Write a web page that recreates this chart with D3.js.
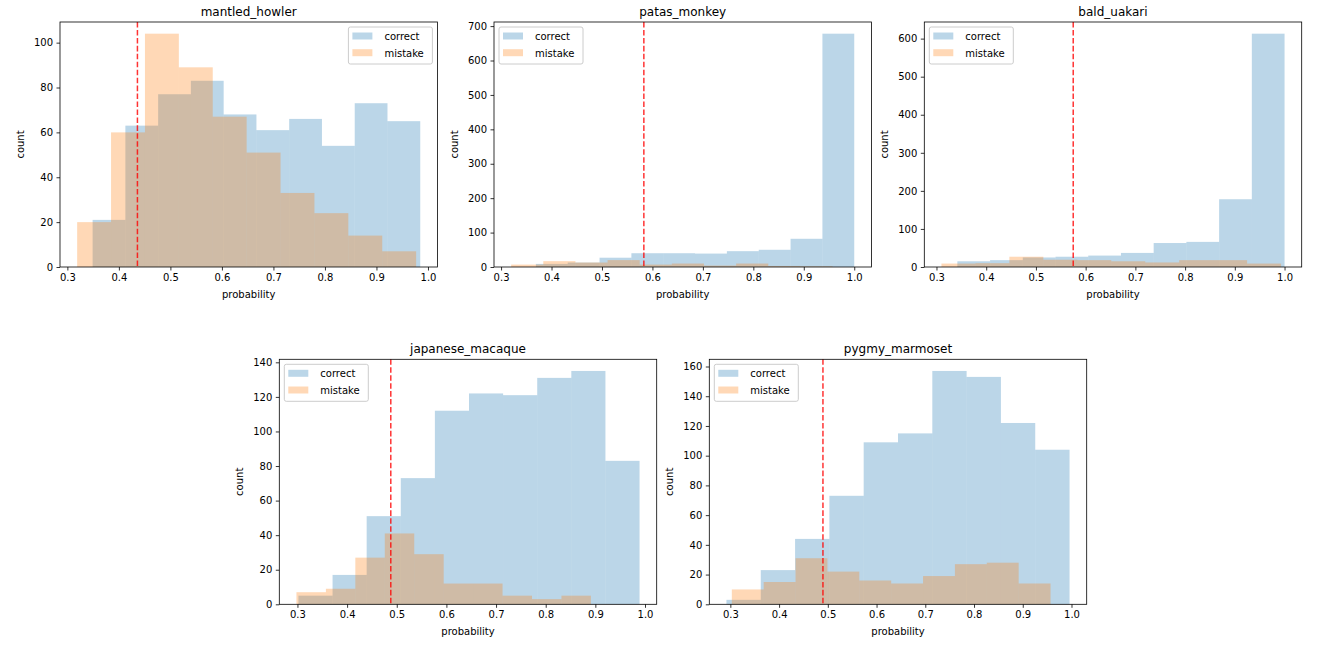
<!DOCTYPE html>
<html>
<head>
<meta charset="utf-8">
<script src="https://cdn.jsdelivr.net/npm/d3@7"></script>
<style>
  body { margin: 0; background: #fff; }
  text { font-family: "DejaVu Sans", sans-serif; }
</style>
</head>
<body>
<script>
// histogram data per class
var panels = ["mantled_howler", "patas_monkey", "bald_uakari", "japanese_macaque", "pygmy_marmoset"];

// [first bin edge, last bin edge], 10 equal bins each
var correctRange = [[0.349, 0.985], [0.369, 1.0], [0.342, 1.0], [0.302, 0.989], [0.292, 0.996]];
var mistakeRange = [[0.319, 0.977], [0.320, 0.957], [0.310, 0.993], [0.298, 0.891], [0.303, 0.957]];

var correctCounts = [
     [21, 63, 77, 83, 68, 61, 66, 54, 73, 65],
     [9, 13, 27, 40, 40, 39, 46, 50, 82, 678],
     [15, 18, 25, 27, 30, 37, 63, 66, 178, 613],
     [5, 17, 51, 73, 112, 122, 121, 131, 135, 83],
     [3, 23, 44, 73, 109, 115, 157, 153, 122, 104]
];
var mistakeCounts = [
     [20, 60, 104, 89, 67, 51, 33, 24, 14, 7],
     [7, 17, 13, 20, 7, 10, 4, 10, 3, 2],
     [9, 10, 27, 19, 18, 15, 12, 18, 18, 9],
     [7, 9, 27, 41, 29, 12, 12, 5, 3, 5],
     [10, 15, 31, 22, 16, 14, 19, 27, 28, 14]
];

var thresholds = [0.436, 0.583, 0.575, 0.488, 0.490];
var xTickValues = [0.3, 0.4, 0.5, 0.6, 0.7, 0.8, 0.9, 1.0];
var yTickStep = [20, 100, 100, 20, 20];
var seriesNames = ["correct", "mistake"];
var legendSide = ["right", "left", "left", "left", "left"];

var colors = ["#1f77b4", "#ff7f0e"];

var plotW = 377.4;
var plotH = 245;
var origins = [
     { left: 60, top: 22 },
     { left: 494, top: 22 },
     { left: 924.3, top: 22 },
     { left: 279.3, top: 359.3 },
     { left: 709.3, top: 359.3 }
];

var svg = d3.select("body").append("svg")
     .attr("width", 1333)
     .attr("height", 661);

svg.append("rect").attr("width", 1333).attr("height", 661).attr("fill", "#fff");

function toBins(range, counts) {
     var step = (range[1] - range[0]) / counts.length;
     return counts.map(function (c, i) {
          return { x0: range[0] + i * step, x1: range[0] + (i + 1) * step, count: c };
     });
}

panels.forEach(function (name, p) {
     var o = origins[p];
     var g = svg.append("g")
          .attr("transform", "translate(" + o.left + "," + o.top + ")");

     var lo = Math.min(correctRange[p][0], mistakeRange[p][0]);
     var hi = Math.max(correctRange[p][1], mistakeRange[p][1]);
     var pad = (hi - lo) * 0.05;
     var ymax = d3.max(correctCounts[p].concat(mistakeCounts[p])) * 1.05;

     var x = d3.scaleLinear().domain([lo - pad, hi + pad]).range([0, plotW]);
     var y = d3.scaleLinear().domain([0, ymax]).range([plotH, 0]);

     var series = [toBins(correctRange[p], correctCounts[p]), toBins(mistakeRange[p], mistakeCounts[p])];

     series.forEach(function (bins, s) {
          g.append("g").selectAll("rect")
               .data(bins)
               .enter()
               .append("rect")
               .attr("x", function (d) { return x(d.x0); })
               .attr("width", function (d) { return x(d.x1) - x(d.x0); })
               .attr("y", function (d) { return y(d.count); })
               .attr("height", function (d) { return y(0) - y(d.count); })
               .attr("fill", colors[s])
               .attr("fill-opacity", 0.3);
     });

     // threshold line
     g.append("line")
          .attr("x1", x(thresholds[p]))
          .attr("x2", x(thresholds[p]))
          .attr("y1", 0)
          .attr("y2", plotH)
          .attr("stroke", "red")
          .attr("stroke-opacity", 0.8)
          .attr("stroke-width", 1.5)
          .attr("stroke-dasharray", "5.55,2.4");

     var xAxis = g.append("g")
          .attr("transform", "translate(0," + plotH + ")")
          .call(d3.axisBottom(x).tickValues(xTickValues).tickFormat(d3.format(".1f"))
               .tickSize(3.5).tickPadding(3.5));
     var yAxis = g.append("g")
          .call(d3.axisLeft(y).tickValues(d3.range(0, ymax, yTickStep[p]))
               .tickSize(3.5).tickPadding(3.5));

     [xAxis, yAxis].forEach(function (a) {
          a.select(".domain").remove();
          a.selectAll("line").attr("stroke", "#000").attr("stroke-width", 0.8);
          a.selectAll("text")
               .attr("fill", "#000")
               .style("font-family", "'DejaVu Sans', sans-serif")
               .style("font-size", "10px");
     });

     g.append("rect")
          .attr("width", plotW)
          .attr("height", plotH)
          .attr("fill", "none")
          .attr("stroke", "#000")
          .attr("stroke-width", 0.8);

     g.append("text")
          .attr("x", plotW / 2)
          .attr("y", -6)
          .attr("text-anchor", "middle")
          .style("font-size", "12px")
          .attr("fill", "#000")
          .text(name);

     g.append("text")
          .attr("x", plotW / 2)
          .attr("y", plotH + 31)
          .attr("text-anchor", "middle")
          .style("font-size", "10px")
          .attr("fill", "#000")
          .text("probability");

     g.append("text")
          .attr("transform", "translate(-36.5," + plotH / 2 + ") rotate(-90)")
          .attr("text-anchor", "middle")
          .style("font-size", "10px")
          .attr("fill", "#000")
          .text("count");

     // legend
     var lw = 84, lh = 37;
     var lx = legendSide[p] == "right" ? plotW - 5 - lw : 5;
     var leg = g.append("g").attr("transform", "translate(" + lx + ",5)");
     leg.append("rect")
          .attr("width", lw)
          .attr("height", lh)
          .attr("rx", 2)
          .attr("fill", "#fff")
          .attr("fill-opacity", 0.8)
          .attr("stroke", "#cccccc")
          .attr("stroke-width", 1);
     seriesNames.forEach(function (s, i) {
          leg.append("rect")
               .attr("x", 4)
               .attr("y", 5.5 + i * 16.7)
               .attr("width", 20)
               .attr("height", 7)
               .attr("fill", colors[i])
               .attr("fill-opacity", 0.3);
          leg.append("text")
               .attr("x", 36)
               .attr("y", 13 + i * 16.7)
               .style("font-size", "10px")
               .attr("fill", "#000")
               .text(s);
     });
});
</script>
</body>
</html>
